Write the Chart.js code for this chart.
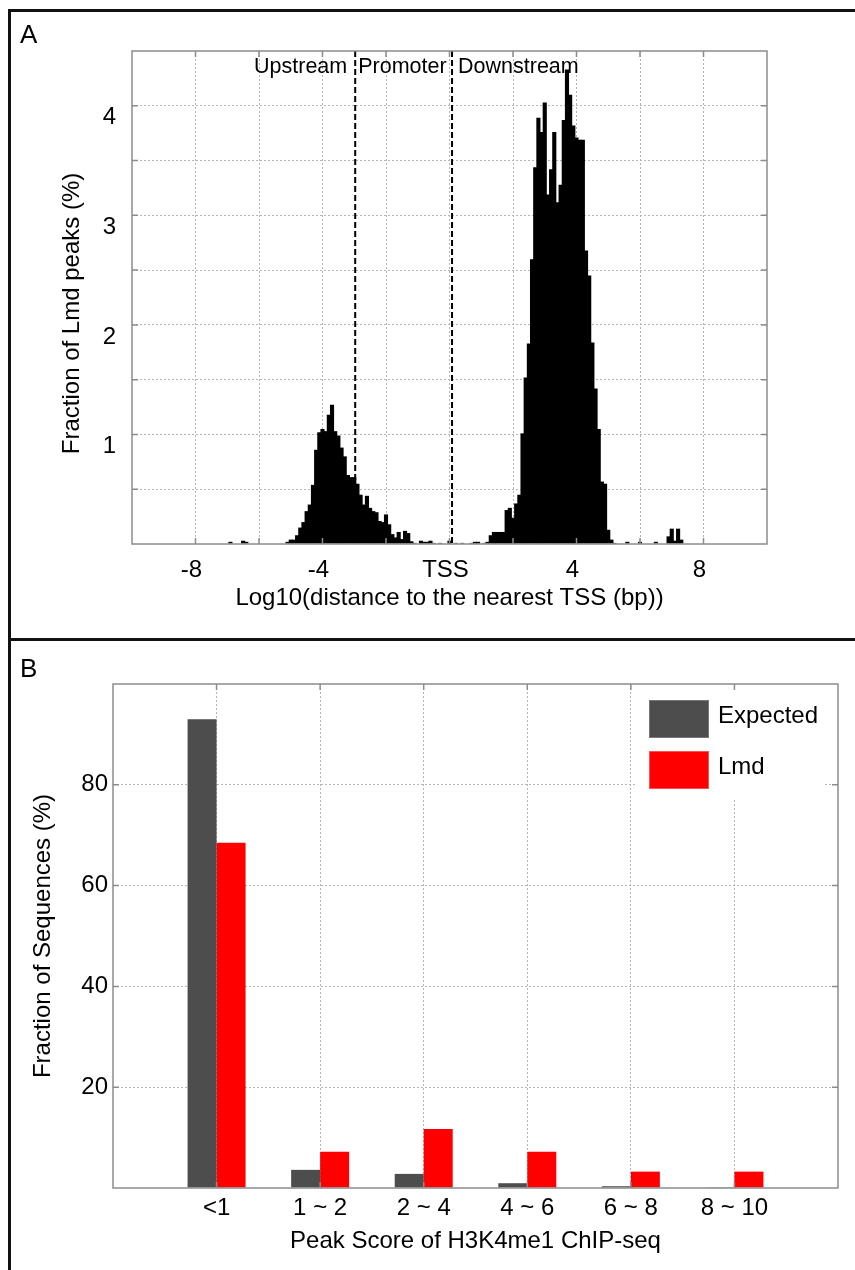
<!DOCTYPE html>
<html>
<head>
<meta charset="utf-8">
<script src="https://cdn.jsdelivr.net/npm/chart.js@4.4.1/dist/chart.umd.min.js"></script>
<style>
html,body{margin:0;padding:0;background:#fff;}
body{width:855px;height:1270px;position:relative;overflow:hidden;font-family:"Liberation Sans",Arial,Helvetica,sans-serif;}
canvas{position:absolute;left:0;}
.rule{position:absolute;background:#111;z-index:5;}
.plabel{position:absolute;font-size:26px;line-height:26px;color:#000;z-index:5;}
</style>
</head>
<body>
<canvas id="cA" width="855" height="638" style="top:0px"></canvas>
<canvas id="cB" width="855" height="629" style="top:641px"></canvas>
<div class="rule" style="left:8px;top:9px;width:847px;height:3px"></div>
<div class="rule" style="left:8px;top:9px;width:3px;height:1261px"></div>
<div class="rule" style="left:8px;top:638px;width:847px;height:3px"></div>
<div class="plabel" style="left:20px;top:21px">A</div>
<div class="plabel" style="left:20px;top:655px">B</div>
<script>
// ---------- Panel A data: histogram of Lmd peak distances (bin centres, % of peaks) ----------
const binCenter = [
  -6.9, -6.5, -6.4,
  -5.1, -5.0, -4.9, -4.8, -4.7, -4.6, -4.5, -4.4, -4.3, -4.2, -4.1, -4.0,
  -3.9, -3.8, -3.7, -3.6, -3.5, -3.4, -3.3, -3.2, -3.1, -3.0,
  -2.9, -2.8, -2.7, -2.6, -2.5, -2.4, -2.3, -2.2, -2.1, -2.0,
  -1.9, -1.8, -1.7, -1.6, -1.5, -1.4, -1.3, -1.2, -1.1,
  -0.9, -0.8, -0.7, -0.6, -0.5, -0.3,
  0.0, 0.2, 0.4, 0.7, 0.8, 0.9, 1.1, 1.2,
  1.3, 1.4, 1.5, 1.6, 1.7, 1.8, 1.9, 2.0,
  2.1, 2.2, 2.3, 2.4, 2.5, 2.6, 2.7, 2.8, 2.9, 3.0,
  3.1, 3.2, 3.3, 3.4, 3.5, 3.6, 3.7, 3.8, 3.9, 4.0,
  4.1, 4.2, 4.3, 4.4, 4.5, 4.6, 4.7, 4.8, 4.9, 5.0,
  5.1, 5.2, 5.6, 6.0, 6.5, 6.9, 7.0, 7.1, 7.2, 7.3
];
const lmdFraction = [
  0.02, 0.03, 0.02,
  0.02, 0.04, 0.04, 0.08, 0.15, 0.20, 0.30, 0.36, 0.54, 0.86, 1.02, 1.05,
  1.03, 1.18, 1.27, 1.03, 0.99, 0.88, 0.80, 0.63, 0.61, 0.61,
  0.55, 0.45, 0.36, 0.44, 0.33, 0.30, 0.29, 0.21, 0.20, 0.27,
  0.18, 0.09, 0.06, 0.11, 0.045, 0.12, 0.10, 0.025, 0.01,
  0.03, 0.02, 0.02, 0.03, 0.01, 0.01,
  0.03, 0.01, 0.01, 0.01, 0.02, 0.02, 0.01, 0.02,
  0.08, 0.11, 0.11, 0.11, 0.11, 0.31, 0.33, 0.24,
  0.37, 0.45, 1.01, 1.52, 1.83, 2.60, 3.44, 3.89, 3.76, 4.03,
  3.19, 3.42, 3.76, 3.12, 3.28, 3.87, 4.33, 4.10, 3.82, 3.71,
  3.69, 3.69, 2.68, 2.45, 1.84, 1.42, 1.05, 0.57, 0.55, 0.13,
  0.04, 0.01, 0.02, 0.02, 0.02, 0.07, 0.14, 0.03, 0.14, 0.04
];
const distanceTicks = [-8, -4, 0, 4, 8];
const distanceTickLabels = ['-8', '-4', 'TSS', '4', '8'];
const fractionTicks = [1, 2, 3, 4];
const regionBounds = [-2.97, 0.08];           // Upstream | Promoter | Downstream
const regionNames = ['Upstream', 'Promoter', 'Downstream'];
const xTitleA = 'Log10(distance to the nearest TSS (bp))';
const yTitleA = 'Fraction of Lmd peaks (%)';

// ---------- Panel B data ----------
const scoreBins = ['<1', '1 ~ 2', '2 ~ 4', '4 ~ 6', '6 ~ 8', '8 ~ 10'];
const expectedPct = [93.0, 3.6, 2.8, 0.95, 0.35, 0.15];
const lmdPct = [68.5, 7.2, 11.7, 7.2, 3.25, 3.25];
const seqTicks = [20, 40, 60, 80];
const xTitleB = 'Peak Score of H3K4me1 ChIP-seq';
const yTitleB = 'Fraction of Sequences (%)';

// ---------- common styling ----------
Chart.defaults.font.family = '"Liberation Sans", Arial, Helvetica, sans-serif';
Chart.defaults.font.size = 24;
Chart.defaults.color = '#000';
const GRID = '#b4b4b4';
const AXIS = '#8c8c8c';
const CLEAR = 'rgba(0,0,0,0)';

// box around plot area + inward tick marks (MATLAB style)
const frameTicks = {
  id: 'frameTicks',
  afterDraw(chart) {
    const {ctx, chartArea: a, scales: {x, y}} = chart;
    const L = 6;
    ctx.save();
    ctx.setLineDash([]);
    ctx.strokeStyle = AXIS;
    ctx.lineWidth = 1.5;
    ctx.beginPath();
    x.ticks.forEach((t, i) => {
      const px = x.getPixelForTick(i);
      if (px <= a.left + 1 || px >= a.right - 1) return;
      ctx.moveTo(px, a.top); ctx.lineTo(px, a.top + L);
      ctx.moveTo(px, a.bottom); ctx.lineTo(px, a.bottom - L);
    });
    y.ticks.forEach((t, i) => {
      const py = y.getPixelForTick(i);
      if (py <= a.top + 1 || py >= a.bottom - 1) return;
      ctx.moveTo(a.left, py); ctx.lineTo(a.left + L, py);
      ctx.moveTo(a.right, py); ctx.lineTo(a.right - L, py);
    });
    ctx.stroke();
    ctx.strokeRect(a.left, a.top, a.right - a.left, a.bottom - a.top);
    ctx.restore();
  }
};

// dashed region boundaries and their names, plus the y title (panel A)
const regionMarks = {
  id: 'regionMarks',
  afterDatasetsDraw(chart) {
    const {ctx, chartArea: a, scales: {x}} = chart;
    const px = regionBounds.map(b => x.getPixelForValue(b));
    ctx.save();
    ctx.strokeStyle = '#000';
    ctx.lineWidth = 2;
    ctx.setLineDash([6, 3]);
    ctx.beginPath();
    px.forEach(p => { ctx.moveTo(p, a.top); ctx.lineTo(p, a.bottom); });
    ctx.stroke();
    ctx.setLineDash([]);
    ctx.fillStyle = '#000';
    ctx.font = '21.5px "Liberation Sans", Arial, sans-serif';
    ctx.textBaseline = 'middle';
    const ty = a.top + 16;
    ctx.textAlign = 'right';
    ctx.fillText(regionNames[0], px[0] - 8, ty);
    ctx.textAlign = 'left';
    ctx.fillText(regionNames[1], px[0] + 3, ty);
    ctx.fillText(regionNames[2], px[1] + 6, ty);
    // y-axis title, sitting a little below the plot centre as in the original
    ctx.font = '24px "Liberation Sans", Arial, sans-serif';
    ctx.textAlign = 'center';
    ctx.translate(72, (a.top + a.bottom) / 2 + 16);
    ctx.rotate(-Math.PI / 2);
    ctx.fillText(yTitleA, 0, 0);
    ctx.restore();
  }
};

// legend inside the plot area (panel B)
const boxLegend = {
  id: 'boxLegend',
  afterDatasetsDraw(chart) {
    const {ctx, chartArea: a} = chart;
    ctx.save();
    ctx.fillStyle = '#fff';
    ctx.fillRect(a.right - 201, a.top + 2, 186, 114);
    ctx.font = '24px "Liberation Sans", Arial, sans-serif';
    ctx.textBaseline = 'middle';
    ctx.textAlign = 'left';
    chart.data.datasets.forEach((ds, i) => {
      const top = a.top + 16 + i * 51;
      ctx.fillStyle = ds.backgroundColor;
      ctx.fillRect(a.right - 189, top, 60, 38);
      ctx.strokeStyle = i === 0 ? '#777' : '#ff5050';
      ctx.lineWidth = 1;
      ctx.strokeRect(a.right - 189 + 0.5, top + 0.5, 59, 37);
      ctx.fillStyle = '#000';
      ctx.fillText(ds.label, a.right - 120, top + 16);
    });
    ctx.restore();
  }
};

// ---------- Panel A ----------
new Chart(document.getElementById('cA'), {
  type: 'bar',
  data: {
    datasets: [{
      label: 'Lmd peaks',
      data: binCenter.map((c, i) => ({x: c, y: lmdFraction[i]})),
      backgroundColor: '#000',
      borderWidth: 0,
      barPercentage: 1.3,
      categoryPercentage: 1
    }]
  },
  options: {
    responsive: false,
    animation: false,
    devicePixelRatio: 1,
    layout: {padding: {left: 0, right: 88, top: 51, bottom: 0}},
    plugins: {legend: {display: false}, tooltip: {enabled: false}},
    scales: {
      x: {
        type: 'linear', min: -10, max: 10, offset: false,
        grid: {offset: false, drawTicks: false, lineWidth: 1,
               color: c => (c.tick && (c.tick.value === -10 || c.tick.value === 10)) ? CLEAR : GRID},
        border: {display: false, dash: [2, 2]},
        ticks: {stepSize: 2, autoSkip: false, maxRotation: 0, padding: 11.6, labelOffset: -4,
                callback: v => { const k = distanceTicks.indexOf(v); return k >= 0 ? distanceTickLabels[k] : ''; }},
        title: {display: true, text: xTitleA, padding: {top: 0, bottom: 25}},
        afterFit: s => { s.height = 94; }
      },
      y: {
        min: 0, max: 4.5,
        grid: {drawTicks: false, lineWidth: 1,
               color: c => (c.tick && (c.tick.value === 0 || c.tick.value === 4.5)) ? CLEAR : GRID},
        border: {display: false, dash: [2, 2]},
        ticks: {stepSize: 0.5, padding: 16, labelOffset: 12,
                callback: v => fractionTicks.includes(v) ? String(v) : ''},
        title: {display: false, text: yTitleA},
        afterFit: s => { s.width = 132; }
      }
    }
  },
  plugins: [regionMarks, frameTicks]
});

// ---------- Panel B ----------
new Chart(document.getElementById('cB'), {
  type: 'bar',
  data: {
    labels: [''].concat(scoreBins, ['']),
    datasets: [
      {label: 'Expected', data: [null].concat(expectedPct, [null]), backgroundColor: '#4d4d4d', borderWidth: 0},
      {label: 'Lmd', data: [null].concat(lmdPct, [null]), backgroundColor: '#ff0000', borderWidth: 0}
    ]
  },
  options: {
    responsive: false,
    animation: false,
    devicePixelRatio: 1,
    datasets: {bar: {categoryPercentage: 0.56, barPercentage: 1}},
    layout: {padding: {left: 0, right: 17, top: 43, bottom: 0}},
    plugins: {legend: {display: false}, tooltip: {enabled: false}},
    scales: {
      x: {
        type: 'category', offset: false,
        grid: {offset: false, drawTicks: false, lineWidth: 1,
               color: c => (c.index === 0 || c.index === scoreBins.length + 1) ? CLEAR : GRID},
        border: {display: false, dash: [2, 2]},
        ticks: {autoSkip: false, maxRotation: 0, padding: 5.6},
        title: {display: true, text: xTitleB, padding: {top: 0, bottom: 14}},
        afterFit: s => { s.height = 82; }
      },
      y: {
        min: 0, max: 100,
        grid: {drawTicks: false, lineWidth: 1,
               color: c => (c.tick && (c.tick.value === 0 || c.tick.value === 100)) ? CLEAR : GRID},
        border: {display: false, dash: [2, 2]},
        ticks: {stepSize: 20, padding: 5, callback: v => seqTicks.includes(v) ? String(v) : ''},
        title: {display: true, text: yTitleB, padding: {top: 28.6, bottom: 0}},
        afterFit: s => { s.width = 113; }
      }
    }
  },
  plugins: [boxLegend, frameTicks]
});
</script>
</body>
</html>
